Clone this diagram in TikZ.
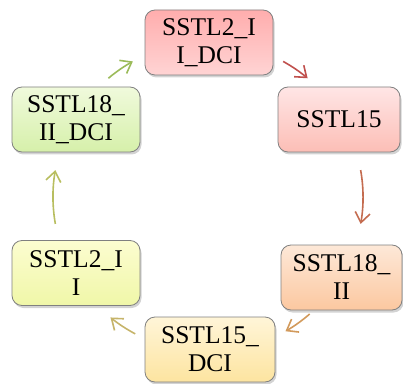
\documentclass[tikz,border=0pt]{standalone}
\usepackage{fontspec}
\setmainfont{Liberation Serif}
\usetikzlibrary{arrows.meta,shadows}
\begin{document}
\begin{tikzpicture}[x=1pt,y=1pt,
  box/.style={draw=black!50, line width=0.8pt, rounded corners=10pt,
    align=center, inner sep=0pt, minimum height=65pt,
    font=\fontsize{25.5}{28}\selectfont,
    drop shadow={shadow xshift=1.5pt, shadow yshift=-2.5pt, opacity=0.35}},
  arr/.style={line width=1.6pt, -{Straight Barb[length=10pt,width=15pt,line width=1.6pt]}}]
\useasboundingbox (0,0) rectangle (403,383);
\coordinate (c) at (208,186);
\node[box, minimum width=128pt, top color=red!32, bottom color=red!17] (n1) at (209,340.5) {SSTL2\_I\\I\_DCI};
\node[box, minimum width=122pt, top color=red!10!white, bottom color={rgb,255:red,252;green,190;blue,182}] (n2) at (339,263.5) {SSTL15};
\node[box, minimum width=121pt, top color={rgb,255:red,253;green,232;blue,216}, bottom color={rgb,255:red,252;green,200;blue,160}] (n3) at (341.5,105.5) {SSTL18\_\\II};
\node[box, minimum width=130pt, top color={rgb,255:red,255;green,245;blue,216}, bottom color={rgb,255:red,253;green,228;blue,160}] (n4) at (210,33.5) {SSTL15\_\\DCI};
\node[box, minimum width=128pt, top color={rgb,255:red,252;green,253;blue,208}, bottom color={rgb,255:red,240;green,247;blue,168}] (n5) at (76,110) {SSTL2\_I\\I};
\node[box, minimum width=128pt, top color={rgb,255:red,240;green,250;blue,220}, bottom color={rgb,255:red,214;green,240;blue,170}] (n6) at (76,263.5) {SSTL18\_\\II\_DCI};
\draw[arr, draw={rgb,255:red,192;green,80;blue,77}] ([shift={(61:155)}]c) arc (61:50:155);
\draw[arr, draw={rgb,255:red,196;green,108;blue,80}] ([shift={(10:155)}]c) arc (10:-10:155);
\draw[arr, draw={rgb,255:red,210;green,154;blue,92}] ([shift={(-49:155)}]c) arc (-49:-60:155);
\draw[arr, draw={rgb,255:red,198;green,180;blue,106}] ([shift={(-118:155)}]c) arc (-118:-129:155);
\draw[arr, draw={rgb,255:red,184;green,190;blue,96}] ([shift={(190:155)}]c) arc (190:170:155);
\draw[arr, draw={rgb,255:red,155;green,187;blue,89}] ([shift={(130:155)}]c) arc (130:119:155);
\end{tikzpicture}
\end{document}
